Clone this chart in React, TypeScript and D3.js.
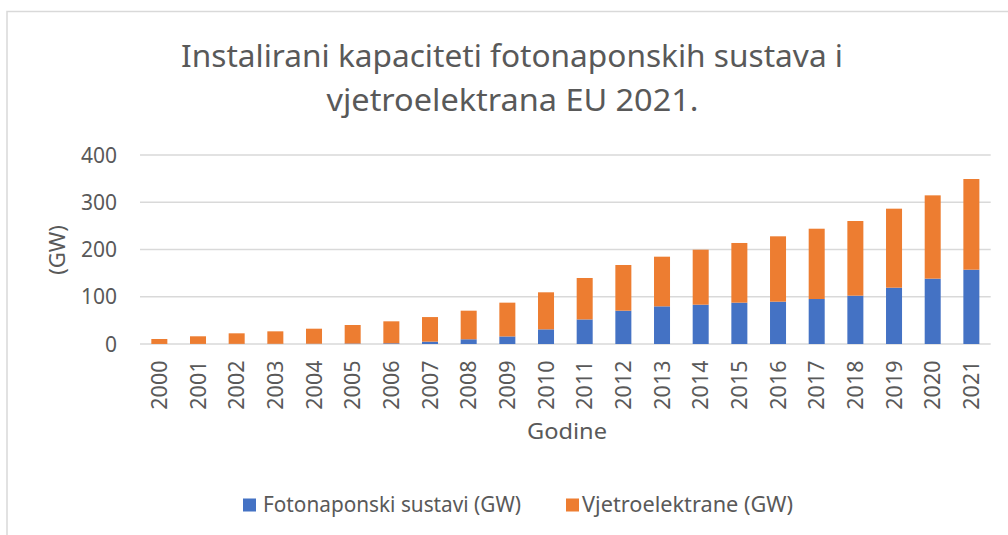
import React from "react";
import * as d3 from "d3";

const years = ["2000","2001","2002","2003","2004","2005","2006","2007","2008","2009","2010","2011","2012","2013","2014","2015","2016","2017","2018","2019","2020","2021"];
const solar = [0.1, 0.2, 0.3, 0.4, 0.6, 1, 1.5, 5, 10, 16, 31, 52, 70.5, 79.7, 83.2, 87.5, 89.6, 95.2, 102.3, 119.2, 138.3, 157.3];
const wind = [10.5, 16.1, 22.3, 26.4, 31.8, 39.2, 46.5, 52, 60.5, 71.5, 78.4, 87.7, 96.7, 105.1, 116.4, 126.3, 138.3, 148.8, 158, 167.2, 176.3, 191.9];
const yTicks = [0, 100, 200, 300, 400];
const titleLines = ["Instalirani kapaciteti fotonaponskih sustava i", "vjetroelektrana EU 2021."];
const seriesNames = ["Fotonaponski sustavi (GW)", "Vjetroelektrane (GW)"];
const colors = ["#4472C4", "#ED7D31"];

export default function App() {
  const W = 1008, H = 535;
  const font = "'Noto Sans', 'Open Sans', sans-serif";
  const textColor = "#595959";
  const x = d3.scaleBand<string>().domain(years).range([140, 990.7]).paddingInner(0.586).paddingOuter(0.293);
  const y = d3.scaleLinear().domain([0, 400]).range([344, 155]);
  const rows = years.map((yr, i) => ({ year: yr, solar: solar[i], wind: wind[i] }));
  const stacked = d3.stack<any>().keys(["solar", "wind"])(rows);

  return (
    <svg width={W} height={H} style={{ position: "absolute", left: 0, top: 0, background: "#fff" }} fontFamily={font}>
      <rect x={0} y={0} width={W} height={H} fill="#fff" />
      <rect x={7} y={11.5} width={1010} height={540} fill="none" stroke="#d9d9d9" strokeWidth={1.5} />
      <text x={512} y={66.5} textAnchor="middle" fontSize={31} fill={textColor} textLength={662} lengthAdjust="spacingAndGlyphs">{titleLines[0]}</text>
      <text x={512.5} y={111} textAnchor="middle" fontSize={31} fill={textColor} textLength={372} lengthAdjust="spacingAndGlyphs">{titleLines[1]}</text>
      {yTicks.map((t) => (
        <g key={t}>
          <line x1={140} x2={990.7} y1={y(t)} y2={y(t)} stroke="#d9d9d9" strokeWidth={1.5} />
          <text x={117} y={y(t)} dy="0.36em" textAnchor="end" fontSize={21} fill={textColor}>{t}</text>
        </g>
      ))}
      {stacked.map((s, si) => (
        <g key={si} fill={colors[si]}>
          {s.map((d: any, i: number) => (
            <rect key={i} x={x(years[i])} width={x.bandwidth()} y={y(d[1])} height={Math.max(0, y(d[0]) - y(d[1]))} />
          ))}
        </g>
      ))}
      {years.map((yr) => {
        const cx = (x(yr) as number) + x.bandwidth() / 2;
        return (
          <text key={yr} transform={`translate(${cx},360.5) rotate(-90)`} dy="0.36em" textAnchor="end" fontSize={21.5} fill={textColor}>{yr}</text>
        );
      })}
      <text transform="translate(57,250) rotate(-90)" dy="0.36em" textAnchor="middle" fontSize={22} fill={textColor}>(GW)</text>
      <text x={567} y={439} textAnchor="middle" fontSize={22} fill={textColor} textLength={80} lengthAdjust="spacingAndGlyphs">Godine</text>
      <rect x={243} y={498.5} width={13} height={13} fill={colors[0]} />
      <text x={263} y={512} fontSize={21.5} fill={textColor} textLength={258} lengthAdjust="spacingAndGlyphs">{seriesNames[0]}</text>
      <rect x={566} y={498.5} width={13} height={13} fill={colors[1]} />
      <text x={582} y={512} fontSize={21.5} fill={textColor} textLength={211} lengthAdjust="spacingAndGlyphs">{seriesNames[1]}</text>
    </svg>
  );
}
